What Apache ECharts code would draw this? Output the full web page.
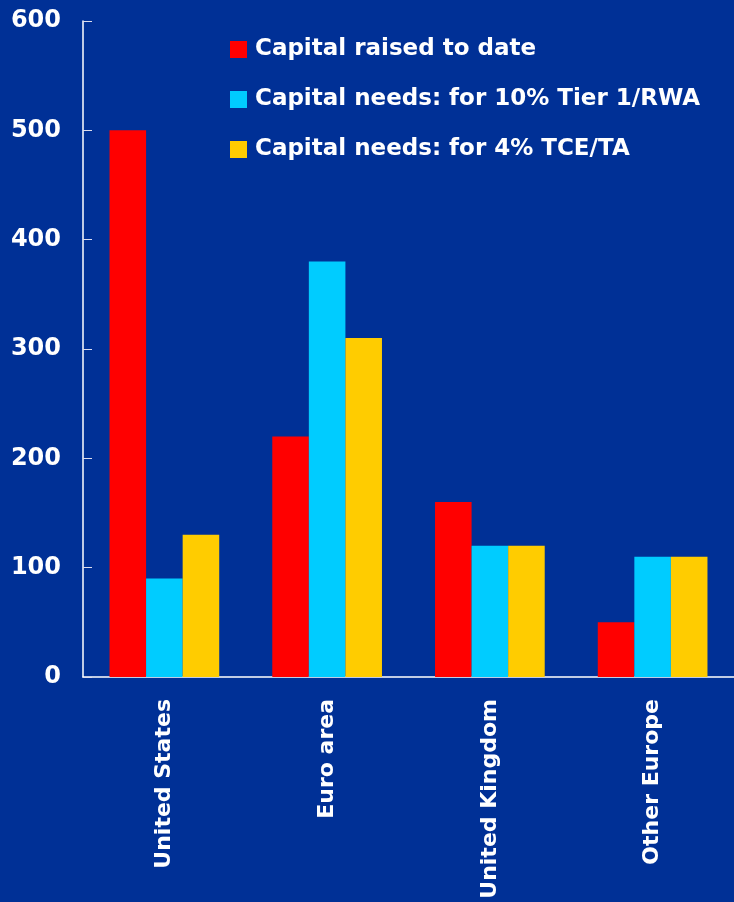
<!DOCTYPE html>
<html><head><meta charset="utf-8">
<script src="https://cdn.jsdelivr.net/npm/echarts@6/dist/echarts.min.js"></script>
<style>html,body{margin:0;padding:0;background:#003096;}#c{width:734px;height:902px;}</style>
</head><body><div id="c"></div>
<script>
const categories = ["United States", "Euro area", "United Kingdom", "Other Europe"];
const seriesNames = ["Capital raised to date", "Capital needs: for 10% Tier 1/RWA", "Capital needs: for 4% TCE/TA"];
const raised = [500, 220, 160, 50];
const tier1 = [90, 380, 120, 110];
const tce = [130, 310, 120, 110];
const colors = ["#FF0000", "#00CCFF", "#FFCC00"];
const yMin = 0, yMax = 600, yStep = 100;

const font = "DejaVu Sans";
const chart = echarts.init(document.getElementById('c'), null, {renderer: 'canvas'});
const data = [raised, tier1, tce];
chart.setOption({
  backgroundColor: '#003096',
  animation: false,
  grid: {left: 83, top: 21, width: 654, bottom: 225, containLabel: false},
  legend: {
    orient: 'vertical', left: 225, top: 33, itemWidth: 17, itemHeight: 17, itemGap: 27,
    icon: 'rect',
    textStyle: {color: '#fff', fontFamily: font, fontWeight: 'bold', fontSize: 23, padding: [0,0,0,3]},
    data: seriesNames
  },
  xAxis: {
    type: 'category', data: categories,
    axisLine: {lineStyle: {color: '#fff', width: 1.5}},
    axisTick: {inside: true, length: 8, lineStyle: {color: '#aab4d8'}},
    axisLabel: {rotate: 90, color: '#fff', fontFamily: font, fontWeight: 'bold', fontSize: 22, margin: 22, interval: 0}
  },
  yAxis: {
    type: 'value', min: yMin, max: yMax, interval: yStep,
    splitLine: {show: false},
    axisLine: {show: true, lineStyle: {color: '#fff', width: 1.5}},
    axisTick: {show: true, inside: true, length: 9, lineStyle: {color: '#dde'}},
    axisLabel: {color: '#fff', fontFamily: font, fontWeight: 'bold', fontSize: 24, margin: 22}
  },
  series: seriesNames.map((n, i) => ({
    name: n, type: 'bar', data: data[i], barGap: '0%', barCategoryGap: '32.6%',
    itemStyle: {color: colors[i]}
  }))
});
</script></body></html>
